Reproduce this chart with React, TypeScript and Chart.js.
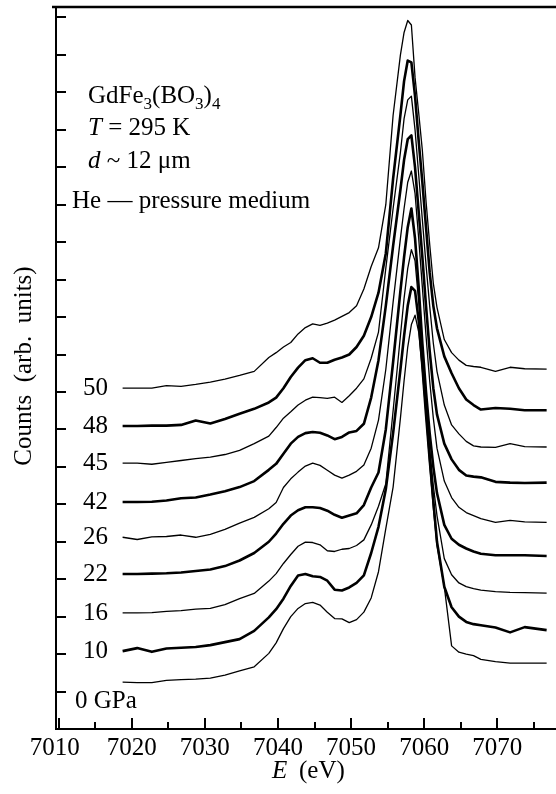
import React, { useEffect, useRef } from "react";
import { Chart, registerables } from "chart.js";

Chart.register(...registerables);

// Photon energy grid (eV)
const energies = [
  7018.75, 7020.75, 7022.75, 7024.75, 7026.75, 7028.75, 7030.75, 7032.75, 7034.75, 7036.75,
  7038.75, 7039.75, 7040.75, 7041.75, 7042.75, 7043.75, 7044.75, 7045.75, 7046.75, 7047.75,
  7048.75, 7049.75, 7050.75, 7051.75, 7052.75, 7053.75, 7054.75, 7055.75, 7056.75, 7057.25,
  7057.75, 7058.25, 7058.75, 7059.25, 7059.75, 7060.25, 7060.75, 7061.25, 7061.75, 7062.75,
  7063.75, 7064.75, 7065.75, 7066.75, 7067.75, 7069.75, 7071.75, 7073.75, 7076.75,
];

// Counts (arb. units), spectra stacked with vertical offsets as in the figure
const p0 = [
  1.25, 1.24, 1.24, 1.30, 1.32, 1.33, 1.36, 1.44, 1.55, 1.66,
  2.02, 2.30, 2.68, 3.00, 3.22, 3.35, 3.38, 3.31, 3.12, 2.95,
  2.94, 2.84, 2.92, 3.12, 3.50, 4.20, 5.35, 6.46, 8.3, 9.3,
  10.2, 10.8, 11.05, 10.6, 9.6, 8.4, 7.1, 5.9, 4.9, 3.8,
  2.22, 2.05, 2.00, 1.96, 1.86, 1.80, 1.76, 1.76, 1.76,
];
const p10 = [
  2.08, 2.16, 2.06, 2.15, 2.17, 2.19, 2.24, 2.32, 2.40, 2.62,
  2.98, 3.20, 3.48, 3.82, 4.10, 4.14, 4.08, 4.06, 3.96, 3.72,
  3.70, 3.78, 3.90, 4.10, 4.70, 5.40, 6.40, 7.9, 9.6, 10.5,
  11.3, 11.8, 11.7, 10.9, 9.7, 8.4, 7.2, 6.1, 5.0, 3.80,
  3.25, 3.00, 2.86, 2.80, 2.77, 2.71, 2.58, 2.72, 2.64,
];
const p16 = [
  3.10, 3.10, 3.11, 3.14, 3.16, 3.20, 3.22, 3.32, 3.48, 3.62,
  3.95, 4.15, 4.42, 4.66, 4.88, 4.99, 4.98, 4.92, 4.76, 4.74,
  4.80, 4.82, 4.90, 5.05, 5.45, 5.95, 6.55, 8.5, 10.5, 11.5,
  12.3, 12.8, 12.5, 11.4, 10.0, 8.7, 7.5, 6.5, 5.7, 4.55,
  4.12, 3.90, 3.80, 3.75, 3.71, 3.67, 3.65, 3.64, 3.63,
];
const p22 = [
  4.14, 4.14, 4.15, 4.16, 4.18, 4.22, 4.26, 4.35, 4.50, 4.70,
  5.00, 5.22, 5.48, 5.70, 5.84, 5.92, 5.92, 5.90, 5.83, 5.72,
  5.64, 5.70, 5.76, 5.98, 6.45, 6.85, 8.0, 9.8, 11.7, 12.6,
  13.4, 13.9, 13.1, 11.8, 10.3, 9.0, 7.9, 7.0, 6.3, 5.45,
  5.08, 4.92, 4.82, 4.74, 4.68, 4.64, 4.64, 4.64, 4.62,
];
const p26 = [
  5.12, 5.06, 5.13, 5.14, 5.18, 5.12, 5.20, 5.33, 5.50, 5.65,
  5.88, 6.05, 6.45, 6.68, 6.86, 7.02, 7.10, 7.04, 6.91, 6.78,
  6.70, 6.78, 6.88, 7.05, 7.50, 8.25, 9.6, 11.4, 13.1, 13.9,
  14.6, 14.9, 14.3, 13.1, 11.8, 10.5, 9.3, 8.3, 7.5, 6.62,
  6.18, 5.92, 5.78, 5.70, 5.62, 5.52, 5.57, 5.53, 5.52,
];
const p42 = [
  6.06, 6.06, 6.07, 6.10, 6.16, 6.18, 6.26, 6.35, 6.46, 6.62,
  6.92, 7.08, 7.35, 7.62, 7.80, 7.90, 7.93, 7.91, 7.84, 7.74,
  7.80, 7.92, 7.96, 8.15, 8.85, 9.85, 11.3, 12.9, 14.4, 15.2,
  15.75, 15.85, 15.0, 13.8, 12.6, 11.3, 10.1, 9.1, 8.4, 7.62,
  7.20, 6.92, 6.77, 6.74, 6.72, 6.60, 6.58, 6.57, 6.58,
];
const p45 = [
  7.10, 7.10, 7.07, 7.12, 7.17, 7.22, 7.26, 7.33, 7.44, 7.62,
  7.82, 8.05, 8.30, 8.47, 8.65, 8.78, 8.86, 8.85, 8.83, 8.86,
  8.72, 8.90, 9.10, 9.35, 9.90, 10.6, 12.3, 13.9, 15.4, 16.3,
  16.8, 16.9, 16.0, 14.8, 13.6, 12.4, 11.3, 10.3, 9.55, 8.65,
  8.12, 7.88, 7.68, 7.56, 7.53, 7.52, 7.62, 7.54, 7.53,
];
const p48 = [
  8.09, 8.09, 8.10, 8.10, 8.12, 8.24, 8.16, 8.28, 8.42, 8.55,
  8.72, 8.85, 9.10, 9.40, 9.65, 9.85, 9.90, 9.78, 9.78, 9.86,
  9.92, 10.00, 10.20, 10.50, 11.00, 11.65, 12.7, 14.7, 16.4, 17.3,
  17.85, 17.80, 16.9, 15.7, 14.6, 13.4, 12.2, 11.3, 10.7, 9.95,
  9.50, 9.10, 8.80, 8.65, 8.53, 8.57, 8.55, 8.51, 8.51,
];
const p50 = [
  9.10, 9.10, 9.10, 9.17, 9.15, 9.20, 9.26, 9.34, 9.44, 9.55,
  9.92, 10.05, 10.20, 10.32, 10.55, 10.72, 10.82, 10.78, 10.84, 10.92,
  11.02, 11.12, 11.30, 11.75, 12.35, 12.85, 14.0, 16.39, 18.0, 18.6,
  18.92, 18.80, 17.40, 16.45, 15.45, 14.10, 12.95, 11.90, 11.26, 10.40,
  10.05, 9.85, 9.71, 9.68, 9.66, 9.55, 9.66, 9.62, 9.61,
];

const seriesLabels = ["0 GPa", "10", "16", "22", "26", "42", "45", "48", "50"];
const seriesValues = [p0, p10, p16, p22, p26, p42, p45, p48, p50];
const seriesThick = [false, true, false, true, false, true, false, true, false];

const xMajorTicks = [7010, 7020, 7030, 7040, 7050, 7060, 7070];
const xMinorTicks = [7015, 7025, 7035, 7045, 7055, 7065, 7075];
const yTicks = [1, 2, 3, 4, 5, 6, 7, 8, 9, 10, 11, 12, 13, 14, 15, 16, 17, 18, 19];

const X_MIN = 7009.64;
const X_MAX = 7078.03;
const Y_MIN = 0;
const Y_MAX = 19.28;

const SERIF = '"Liberation Serif", "Times New Roman", serif';

type Run = { t: string; it?: boolean; sub?: boolean };

function drawRuns(ctx: CanvasRenderingContext2D, runs: Run[], x: number, y: number, size: number) {
  let cx = x;
  for (const r of runs) {
    const fs = r.sub ? Math.round(size * 0.68) : size;
    ctx.font = `${r.it ? "italic " : ""}${fs}px ${SERIF}`;
    ctx.fillText(r.t, cx, r.sub ? y + 6 : y);
    cx += ctx.measureText(r.t).width;
  }
}

const framePlugin = {
  id: "framePlugin",
  afterDraw(chart: any) {
    const ctx: CanvasRenderingContext2D = chart.ctx;
    const { left, right, top, bottom } = chart.chartArea;
    const xs = chart.scales.x;
    const ys = chart.scales.y;
    ctx.save();
    ctx.strokeStyle = "#000";
    ctx.fillStyle = "#000";
    ctx.lineCap = "butt";

    // axes and frame
    ctx.lineWidth = 2;
    ctx.beginPath();
    ctx.moveTo(left, top - 1);
    ctx.lineTo(left, bottom + 1);
    ctx.moveTo(left - 1, bottom);
    ctx.lineTo(right, bottom);
    ctx.stroke();
    ctx.lineWidth = 2.5;
    ctx.beginPath();
    ctx.moveTo(left - 4, top);
    ctx.lineTo(right, top);
    ctx.stroke();

    // inward ticks
    ctx.lineWidth = 2;
    ctx.beginPath();
    for (const v of yTicks) {
      const y = Math.round(ys.getPixelForValue(v));
      ctx.moveTo(left, y);
      ctx.lineTo(left + 10, y);
    }
    for (const v of xMajorTicks) {
      const x = Math.round(xs.getPixelForValue(v));
      ctx.moveTo(x, bottom);
      ctx.lineTo(x, bottom - 11);
    }
    for (const v of xMinorTicks) {
      const x = Math.round(xs.getPixelForValue(v));
      ctx.moveTo(x, bottom);
      ctx.lineTo(x, bottom - 7);
    }
    ctx.stroke();

    // tick labels
    ctx.font = `25px ${SERIF}`;
    ctx.textAlign = "center";
    ctx.textBaseline = "alphabetic";
    xMajorTicks.forEach((v, i) => {
      const x = xs.getPixelForValue(v) - (i === 0 ? 4 : 0);
      ctx.fillText(String(v), x, bottom + 26);
    });

    // x axis title
    ctx.textAlign = "left";
    ctx.font = `italic 25px ${SERIF}`;
    ctx.fillText("E", 272, bottom + 49);
    ctx.font = `25px ${SERIF}`;
    ctx.fillText("(eV)", 299, bottom + 49);

    // y axis title
    ctx.save();
    ctx.translate(31, 366);
    ctx.rotate(-Math.PI / 2);
    ctx.textAlign = "center";
    ctx.font = `25px ${SERIF}`;
    ctx.fillText("Counts  (arb.  units)", 0, 0);
    ctx.restore();

    // annotation block
    ctx.textAlign = "left";
    drawRuns(ctx, [{ t: "GdFe" }, { t: "3", sub: true }, { t: "(BO" }, { t: "3", sub: true }, { t: ")" }, { t: "4", sub: true }], 88, 103, 25);
    drawRuns(ctx, [{ t: "T", it: true }, { t: " = 295 K" }], 88, 135, 25);
    drawRuns(ctx, [{ t: "d", it: true }, { t: " ~ 12 \u03BCm" }], 88, 168, 25);
    drawRuns(ctx, [{ t: "He \u2014 pressure medium" }], 72, 208, 25);

    // pressure labels next to each spectrum
    ctx.font = `25px ${SERIF}`;
    seriesLabels.forEach((lab, i) => {
      const yv = ys.getPixelForValue(seriesValues[i][0]);
      if (i === 0) {
        ctx.textAlign = "left";
        ctx.fillText(lab, 75, yv + 26);
      } else {
        ctx.textAlign = "right";
        ctx.fillText(lab, 108, yv + 7);
      }
    });

    ctx.restore();
  },
};

export default function App() {
  const canvasRef = useRef<HTMLCanvasElement | null>(null);

  useEffect(() => {
    const canvas = canvasRef.current;
    if (!canvas) return;
    const datasets = seriesValues.map((vals, i) => ({
      label: seriesLabels[i],
      data: energies.map((e, k) => ({ x: e, y: vals[k] })),
      borderColor: "#000",
      backgroundColor: "#000",
      borderWidth: seriesThick[i] ? 2.6 : 1.3,
      borderJoinStyle: "round" as const,
      pointRadius: 0,
      fill: false,
      tension: 0,
    }));
    const chart = new Chart(canvas, {
      type: "line",
      data: { datasets },
      options: {
        animation: false,
        responsive: false,
        devicePixelRatio: 1,
        layout: { padding: { left: 56, top: 7, right: 0, bottom: 65 } },
        scales: {
          x: { type: "linear", min: X_MIN, max: X_MAX, display: false },
          y: { type: "linear", min: Y_MIN, max: Y_MAX, display: false },
        },
        plugins: {
          legend: { display: false },
          tooltip: { enabled: false },
        },
      },
      plugins: [framePlugin],
    });
    let alive = true;
    const fonts = (document as any).fonts;
    if (fonts && fonts.load) {
      Promise.all([
        fonts.load(`25px ${SERIF}`),
        fonts.load(`italic 25px ${SERIF}`),
      ]).then(() => {
        if (alive) chart.draw();
      }).catch(() => {});
    }
    return () => {
      alive = false;
      chart.destroy();
    };
  }, []);

  return (
    <div style={{ position: "absolute", left: 0, top: 0, width: 556, height: 794, background: "#fff" }}>
      <canvas ref={canvasRef} width={556} height={794} style={{ display: "block" }} />
    </div>
  );
}
